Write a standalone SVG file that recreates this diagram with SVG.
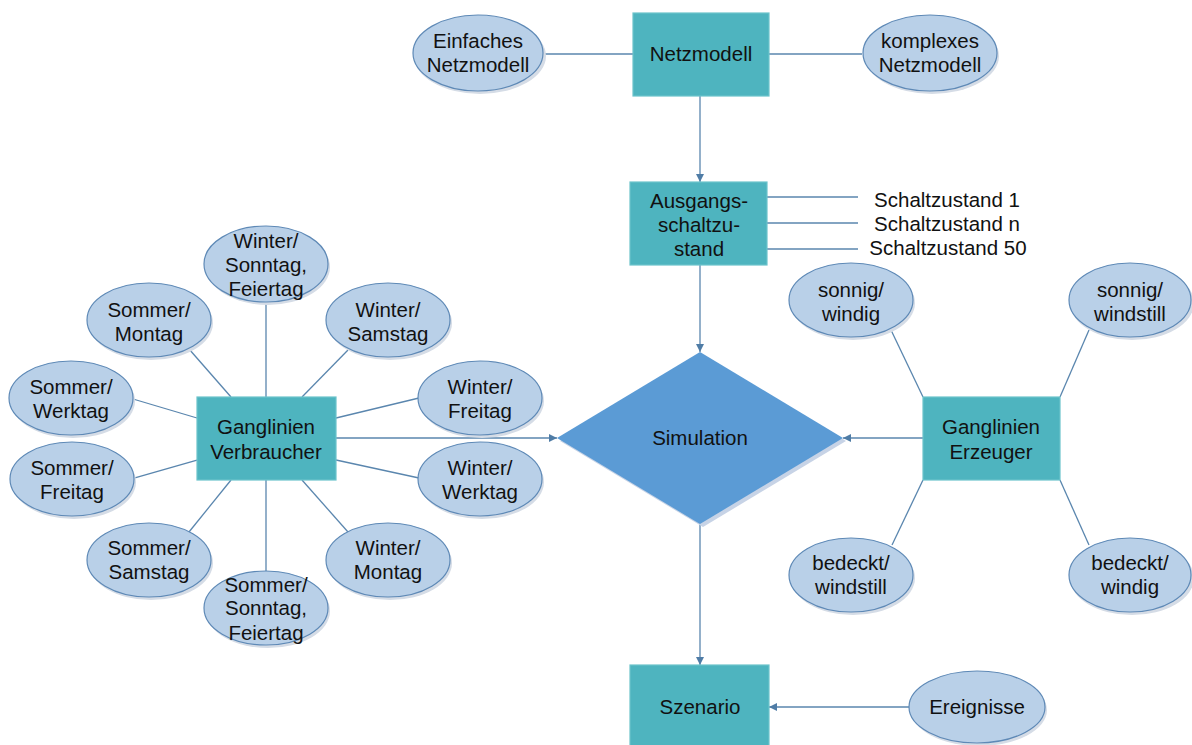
<svg xmlns="http://www.w3.org/2000/svg" width="1192" height="745" viewBox="0 0 1192 745">
<defs>
<style>
.rect{fill:#4EB4BF;stroke:#6CC3CB;stroke-width:1.2}
.ell{fill:#B9D0E8;stroke:#5E89B6;stroke-width:1.2}
.sh{fill:#D5DCE6;stroke:none}
.ln{stroke:#5A86AE;stroke-width:1.3;fill:none}
.ar{stroke:#5A86AE;stroke-width:1.3;fill:none;marker-end:url(#ah)}
text{font-family:"Liberation Sans",Arial,sans-serif;font-size:20.5px;fill:#111;text-anchor:middle}
</style>
<marker id="ah" viewBox="0 0 10 10" refX="10" refY="5" markerWidth="8" markerHeight="8" markerUnits="userSpaceOnUse" orient="auto">
<path d="M0,0 L10,5 L0,10 z" fill="#4F7CA6"/>
</marker>
</defs>
<rect width="1192" height="745" fill="#fff"/>

<g id="connectors">
<line class="ln" x1="543" y1="54" x2="633" y2="54"/>
<line class="ln" x1="769" y1="54" x2="862" y2="54"/>
<line class="ar" x1="700" y1="96" x2="700" y2="182"/>
<line class="ln" x1="767" y1="197" x2="858" y2="197"/>
<line class="ln" x1="767" y1="223" x2="858" y2="223"/>
<line class="ln" x1="767" y1="249" x2="858" y2="249"/>
<line class="ar" x1="700" y1="265" x2="700" y2="352"/>
<line class="ar" x1="700" y1="524" x2="700" y2="665"/>
<line class="ar" x1="909" y1="707" x2="769" y2="707"/>
<line class="ar" x1="336" y1="438" x2="557" y2="438"/>
<line class="ar" x1="923" y1="438" x2="843" y2="438"/>
<line class="ln" x1="266" y1="302" x2="266" y2="397"/>
<line class="ln" x1="189" y1="349" x2="231" y2="397"/>
<line class="ln" x1="348" y1="350" x2="302" y2="397"/>
<line class="ln" x1="133" y1="399" x2="197" y2="418"/>
<line class="ln" x1="336" y1="418" x2="419" y2="398"/>
<line class="ln" x1="134" y1="478" x2="197" y2="460"/>
<line class="ln" x1="336" y1="460" x2="419" y2="478"/>
<line class="ln" x1="189" y1="532" x2="231" y2="480"/>
<line class="ln" x1="302" y1="480" x2="348" y2="532"/>
<line class="ln" x1="266" y1="480" x2="266" y2="571"/>
<line class="ln" x1="891" y1="330" x2="923" y2="397"/>
<line class="ln" x1="1089" y1="330" x2="1060" y2="397"/>
<line class="ln" x1="923" y1="480" x2="892" y2="545"/>
<line class="ln" x1="1060" y1="480" x2="1089" y2="545"/>
</g>

<g id="netzmodell"><rect class="rect" x="633" y="13" width="136" height="83"/><text x="701" y="61">Netzmodell</text></g>
<g id="einfaches"><ellipse class="sh" cx="480" cy="56" rx="66" ry="38"/><ellipse class="ell" cx="478" cy="53" rx="65" ry="38"/><text x="478" y="48">Einfaches</text><text x="478" y="72">Netzmodell</text></g>
<g id="komplexes"><ellipse class="sh" cx="932" cy="56" rx="67" ry="38"/><ellipse class="ell" cx="930" cy="53" rx="67" ry="38"/><text x="930" y="48">komplexes</text><text x="930" y="72">Netzmodell</text></g>

<g id="ausgangs"><rect class="rect" x="630" y="182" width="137" height="83"/><text x="699" y="208">Ausgangs-</text><text x="699" y="232">schaltzu-</text><text x="699" y="256">stand</text></g>
<g id="schaltzustaende"><text x="947" y="207">Schaltzustand 1</text><text x="947" y="231">Schaltzustand n</text><text x="948" y="255">Schaltzustand 50</text></g>

<g id="simulation"><polygon points="703,355 846,441 703,527 560,441" fill="#C7D3E6"/><polygon points="700,352 843,438 700,524 557,438" fill="#5B9BD5"/><text x="700" y="445">Simulation</text></g>

<g id="szenario"><rect class="rect" x="630" y="665" width="139" height="82"/><text x="700" y="714">Szenario</text></g>
<g id="ereignisse"><ellipse class="sh" cx="979" cy="710" rx="68" ry="36"/><ellipse class="ell" cx="977" cy="707" rx="68" ry="36"/><text x="977" y="714">Ereignisse</text></g>

<g id="verbraucher"><rect class="rect" x="197" y="397" width="139" height="83"/><text x="266" y="434">Ganglinien</text><text x="266" y="459">Verbraucher</text></g>

<g id="w-sonntag"><ellipse class="sh" cx="268" cy="267" rx="62" ry="38"/><ellipse class="ell" cx="266" cy="264" rx="62" ry="38"/><text x="266" y="248">Winter/</text><text x="266" y="272">Sonntag,</text><text x="266" y="296">Feiertag</text></g>
<g id="s-montag"><ellipse class="sh" cx="151" cy="323" rx="62" ry="37"/><ellipse class="ell" cx="149" cy="320" rx="62" ry="37"/><text x="149" y="317">Sommer/</text><text x="149" y="341">Montag</text></g>
<g id="w-samstag"><ellipse class="sh" cx="390" cy="323" rx="62" ry="37"/><ellipse class="ell" cx="388" cy="320" rx="62" ry="37"/><text x="388" y="317">Winter/</text><text x="388" y="341">Samstag</text></g>
<g id="s-werktag"><ellipse class="sh" cx="73" cy="401" rx="62" ry="37"/><ellipse class="ell" cx="71" cy="398" rx="62" ry="37"/><text x="71" y="394">Sommer/</text><text x="71" y="418">Werktag</text></g>
<g id="w-freitag"><ellipse class="sh" cx="482" cy="401" rx="62" ry="37"/><ellipse class="ell" cx="480" cy="398" rx="62" ry="37"/><text x="480" y="394">Winter/</text><text x="480" y="418">Freitag</text></g>
<g id="s-freitag"><ellipse class="sh" cx="74" cy="482" rx="62" ry="37"/><ellipse class="ell" cx="72" cy="479" rx="62" ry="37"/><text x="72" y="475">Sommer/</text><text x="72" y="499">Freitag</text></g>
<g id="w-werktag"><ellipse class="sh" cx="482" cy="482" rx="62" ry="37"/><ellipse class="ell" cx="480" cy="479" rx="62" ry="37"/><text x="480" y="475">Winter/</text><text x="480" y="499">Werktag</text></g>
<g id="s-samstag"><ellipse class="sh" cx="151" cy="563" rx="62" ry="37"/><ellipse class="ell" cx="149" cy="560" rx="62" ry="37"/><text x="149" y="555">Sommer/</text><text x="149" y="579">Samstag</text></g>
<g id="w-montag"><ellipse class="sh" cx="390" cy="563" rx="62" ry="37"/><ellipse class="ell" cx="388" cy="560" rx="62" ry="37"/><text x="388" y="555">Winter/</text><text x="388" y="579">Montag</text></g>
<g id="s-sonntag"><ellipse class="sh" cx="268" cy="611" rx="62" ry="37"/><ellipse class="ell" cx="266" cy="608" rx="62" ry="37"/><text x="266" y="592">Sommer/</text><text x="266" y="615">Sonntag,</text><text x="266" y="640">Feiertag</text></g>

<g id="erzeuger"><rect class="rect" x="923" y="397" width="137" height="83"/><text x="991" y="434">Ganglinien</text><text x="991" y="459">Erzeuger</text></g>
<g id="sonnig-windig"><ellipse class="sh" cx="853" cy="303" rx="62" ry="37"/><ellipse class="ell" cx="851" cy="300" rx="62" ry="37"/><text x="851" y="297">sonnig/</text><text x="851" y="321">windig</text></g>
<g id="sonnig-windstill"><ellipse class="sh" cx="1132" cy="303" rx="62" ry="37"/><ellipse class="ell" cx="1130" cy="300" rx="61" ry="37"/><text x="1130" y="297">sonnig/</text><text x="1130" y="321">windstill</text></g>
<g id="bedeckt-windstill"><ellipse class="sh" cx="853" cy="578" rx="62" ry="37"/><ellipse class="ell" cx="851" cy="575" rx="62" ry="37"/><text x="851" y="570">bedeckt/</text><text x="851" y="594">windstill</text></g>
<g id="bedeckt-windig"><ellipse class="sh" cx="1132" cy="578" rx="62" ry="37"/><ellipse class="ell" cx="1130" cy="575" rx="61" ry="37"/><text x="1130" y="570">bedeckt/</text><text x="1130" y="594">windig</text></g>
</svg>
